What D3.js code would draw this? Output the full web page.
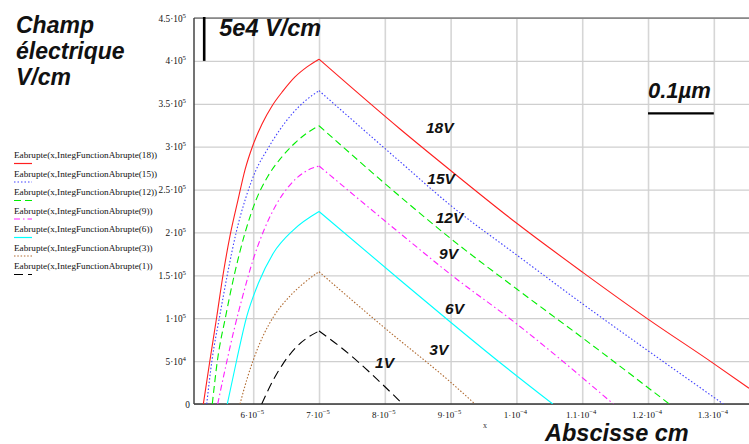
<!DOCTYPE html>
<html><head><meta charset="utf-8">
<script src="https://cdn.jsdelivr.net/npm/d3@7"></script>
<style>body{margin:0;background:#fff;}svg{display:block;}</style>
</head><body>
<svg id="chart" width="749" height="444"></svg>
<script>
// ---------- data ----------
const voltages = [18, 15, 12, 9, 6, 3, 1];
const legendLabels = voltages.map(v => "Eabrupte(x,IntegFunctionAbrupte(" + v + "))");
const colors = ["#ff2020", "#4040ff", "#00ee00", "#ff20ff", "#00ffff", "#b06a30", "#000000"];
const dashes = [null, "1.5,2", "7,4", "6,3,1.5,3", null, "1.5,1.8", "9,5"];

// x in cm, y in V/cm
const x18 = [5.242e-5, 5.343e-5, 5.445e-5, 5.541e-5, 5.647e-5, 5.769e-5, 5.875e-5, 5.997e-5, 6.134e-5, 6.286e-5, 6.453e-5, 6.635e-5, 6.818e-5, 7.0e-5, 8.231e-5, 8.991e-5, 10.005e-5, 11.008e-5, 12.005e-5, 12.993e-5, 13.535e-5];
const y18 = [0, 51300, 101400, 150400, 195900, 237900, 272900, 302000, 326500, 347500, 365000, 381300, 393000, 402000, 320600, 272800, 210700, 153500, 98700, 47400, 18300];
const x15 = [5.293e-5, 5.374e-5, 5.488e-5, 5.609e-5, 5.739e-5, 5.891e-5, 6.043e-5, 6.210e-5, 6.392e-5, 6.590e-5, 6.787e-5, 7.0e-5, 8.231e-5, 8.991e-5, 10.005e-5, 11.008e-5, 12.005e-5, 13.145e-5];
const y15 = [0, 51300, 101400, 151600, 199400, 241300, 272800, 296100, 318300, 338100, 353200, 365300, 282500, 232100, 173700, 116600, 61800, 0];
const x12 = [5.378e-5, 5.457e-5, 5.579e-5, 5.716e-5, 5.875e-5, 6.043e-5, 6.225e-5, 6.422e-5, 6.635e-5, 6.818e-5, 7.0e-5, 8.231e-5, 8.991e-5, 10.005e-5, 11.008e-5, 12.324e-5];
const y12 = [0, 51300, 101400, 151600, 199400, 237800, 265800, 286800, 304300, 315900, 324400, 241900, 193500, 134000, 76900, 0];
const x9 = [5.460e-5, 5.587e-5, 5.708e-5, 5.845e-5, 5.997e-5, 6.164e-5, 6.347e-5, 6.544e-5, 6.757e-5, 7.0e-5, 8.231e-5, 8.991e-5, 10.005e-5, 11.473e-5];
const y9 = [0, 45500, 86300, 127100, 167900, 202800, 232000, 254100, 269300, 277500, 199000, 151600, 93300, 0];
const x6 = [5.606e-5, 5.749e-5, 5.901e-5, 6.078e-5, 6.305e-5, 6.609e-5, 7.0e-5, 8.231e-5, 8.991e-5, 9.701e-5, 10.552e-5];
const y6 = [0, 51300, 101800, 140700, 175700, 202800, 224400, 144600, 95900, 51300, 0];
const x3 = [5.799e-5, 5.901e-5, 6.012e-5, 6.149e-5, 6.316e-5, 6.559e-5, 6.772e-5, 7.0e-5, 8.003e-5, 8.991e-5, 9.371e-5];
const y3 = [0, 28000, 53600, 79300, 102600, 125900, 141100, 154200, 88300, 26000, 0];
const x1 = [6.129e-5, 6.305e-5, 6.457e-5, 6.661e-5, 7.0e-5, 7.319e-5, 8.272e-5];
const y1 = [0, 28000, 47400, 66800, 85100, 66800, 0];
const seriesX = [x18, x15, x12, x9, x6, x3, x1];
const seriesY = [y18, y15, y12, y9, y6, y3, y1];

// curve labels (anchor in data coordinates)
const labelText = ["18V", "15V", "12V", "9V", "6V", "3V", "1V"];
const labelX = [8.626e-5, 8.646e-5, 8.774e-5, 8.824e-5, 8.915e-5, 8.676e-5, 7.851e-5];
const labelY = [315600, 256500, 210700, 168700, 105500, 57100, 41600];

// ticks
const xTickValues = [6e-5, 7e-5, 8e-5, 9e-5, 1e-4, 1.1e-4, 1.2e-4, 1.3e-4];
const xTickMant = ["6", "7", "8", "9", "1", "1.1", "1.2", "1.3"];
const xTickExp = ["\u22125", "\u22125", "\u22125", "\u22125", "\u22124", "\u22124", "\u22124", "\u22124"];
const yTickValues = [0, 5e4, 1e5, 1.5e5, 2e5, 2.5e5, 3e5, 3.5e5, 4e5, 4.5e5];
const yTickMant = ["0", "5", "1", "1.5", "2", "2.5", "3", "3.5", "4", "4.5"];
const yTickExp = ["", "4", "5", "5", "5", "5", "5", "5", "5", "5"];

// scale-bar annotations
const vBarX = 5.255e-5, vBarY = [4.0e5, 4.5e5];
const vBarText = "5e4 V/cm", vBarTextX = 5.484e-5, vBarTextY = 429400;
const hBarX = [1.2e-4, 1.3e-4], hBarY = 338900;
const hBarText = "0.1\u00b5m", hBarTextY = 356300;

// ---------- drawing ----------
const svg = d3.select("#chart");
const L = 194, R = 753.3, T = 18, B = 404;
const x = d3.scaleLinear().domain([5.1e-5, 1.36e-4]).range([L, R]);
const y = d3.scaleLinear().domain([0, 4.5e5]).range([B, T]);

svg.append("defs").append("clipPath").attr("id", "clip")
  .append("rect").attr("x", L).attr("y", T - 1).attr("width", R - L).attr("height", B - T + 1);

// grid
const gx = svg.append("g").attr("transform", `translate(0,${B})`)
  .call(d3.axisBottom(x).tickValues(xTickValues).tickSize(-(B - T)).tickFormat(""));
gx.select(".domain").remove();
gx.selectAll("line").attr("stroke", "#d6d6d6").attr("stroke-width", 1.6);
const gy = svg.append("g").attr("transform", `translate(${L},0)`)
  .call(d3.axisLeft(y).tickValues(yTickValues).tickSize(-(R - L)).tickFormat(""));
gy.select(".domain").remove();
gy.selectAll("line").attr("stroke", "#cfcfcf").attr("stroke-width", 1.2);

// frame lines
svg.append("line").attr("x1", L).attr("x2", 749).attr("y1", T).attr("y2", T).attr("stroke", "#444").attr("stroke-width", 1.2);
svg.append("line").attr("x1", L).attr("x2", 749).attr("y1", B).attr("y2", B).attr("stroke", "#333").attr("stroke-width", 1.5);
svg.append("line").attr("x1", L).attr("x2", L).attr("y1", T).attr("y2", B).attr("stroke", "#444").attr("stroke-width", 1.5);

// tick labels
const serif = "'Liberation Serif','Times New Roman',serif";
const ytl = svg.append("g").attr("font-family", serif).attr("font-size", 9.3).attr("fill", "#111");
yTickValues.forEach((v, i) => {
  const t = ytl.append("text").attr("x", 186).attr("y", y(v) + 3.5).attr("text-anchor", "end");
  if (yTickExp[i] === "") { t.attr("x", 190).text(yTickMant[i]); return; }
  t.append("tspan").text(yTickMant[i] + "\u00b710");
  t.append("tspan").attr("dy", -4).attr("font-size", 6.8).text(yTickExp[i]);
});
const xtl = svg.append("g").attr("font-family", serif).attr("font-size", 9).attr("fill", "#111");
xTickValues.forEach((v, i) => {
  const t = xtl.append("text").attr("x", x(v) - 1).attr("y", 418).attr("text-anchor", "middle");
  t.append("tspan").text(xTickMant[i] + "\u00b710");
  t.append("tspan").attr("dy", -4).attr("font-size", 6.6).text(xTickExp[i]);
});
svg.append("text").attr("x", 483).attr("y", 428).attr("font-family", serif).attr("font-size", 8).attr("fill", "#333").text("x");

// curves
const plot = svg.append("g").attr("clip-path", "url(#clip)");
const lineGen = d3.line().x(d => x(d[0])).y(d => y(d[1])).curve(d3.curveMonotoneX);
seriesX.forEach((xs, i) => {
  const pts = xs.map((v, j) => [v, seriesY[i][j]]);
  const peak = d3.maxIndex(seriesY[i]);
  const parts = [lineGen(pts.slice(0, peak + 1)), lineGen(pts.slice(peak))];
  parts.forEach(p => {
    const path = plot.append("path").attr("d", p).attr("fill", "none")
      .attr("stroke", colors[i]).attr("stroke-width", 1.1);
    if (dashes[i]) path.attr("stroke-dasharray", dashes[i]);
  });
});

// curve labels
const sans = "'Liberation Sans',Arial,sans-serif";
svg.append("g").attr("font-family", sans).attr("font-weight", "bold").attr("font-style", "italic")
  .attr("font-size", 15.5).attr("fill", "#111")
  .selectAll("text").data(labelText).join("text")
  .attr("x", (d, i) => x(labelX[i])).attr("y", (d, i) => y(labelY[i])).text(d => d);

// scale bars
svg.append("line").attr("x1", x(vBarX)).attr("x2", x(vBarX)).attr("y1", y(vBarY[0])).attr("y2", y(vBarY[1]) - 1)
  .attr("stroke", "#000").attr("stroke-width", 2.6);
svg.append("text").attr("x", x(vBarTextX)).attr("y", y(vBarTextY)).attr("font-family", sans)
  .attr("font-weight", "bold").attr("font-style", "italic").attr("font-size", 23.5).attr("fill", "#111").text(vBarText);
svg.append("line").attr("x1", x(hBarX[0])).attr("x2", x(hBarX[1])).attr("y1", y(hBarY)).attr("y2", y(hBarY))
  .attr("stroke", "#000").attr("stroke-width", 2.2);
svg.append("text").attr("x", x(hBarX[0])).attr("y", y(hBarTextY)).attr("font-family", sans)
  .attr("font-weight", "bold").attr("font-style", "italic").attr("font-size", 22).attr("fill", "#111").text(hBarText);

// titles
const title = svg.append("text").attr("font-family", sans).attr("font-weight", "bold").attr("font-style", "italic")
  .attr("font-size", 23).attr("fill", "#111");
["Champ", "\u00e9lectrique", "V/cm"].forEach((s, i) => title.append("tspan").attr("x", 16).attr("y", 33 + i * 26).text(s));
svg.append("text").attr("x", 545).attr("y", 440.5).attr("font-family", sans).attr("font-weight", "bold")
  .attr("font-style", "italic").attr("font-size", 23.5).attr("fill", "#111").text("Abscisse cm");

// legend
const leg = svg.append("g");
legendLabels.forEach((s, i) => {
  leg.append("text").attr("x", 14).attr("y", 158 + i * 18.5).attr("font-family", serif)
    .attr("font-size", 9.2).attr("fill", "#111").text(s);
  const ln = leg.append("line").attr("x1", 14).attr("x2", 32).attr("y1", 163.5 + i * 18.5).attr("y2", 163.5 + i * 18.5)
    .attr("stroke", colors[i]).attr("stroke-width", 1.2);
  if (dashes[i]) ln.attr("stroke-dasharray", dashes[i]);
});
</script>
</body></html>
